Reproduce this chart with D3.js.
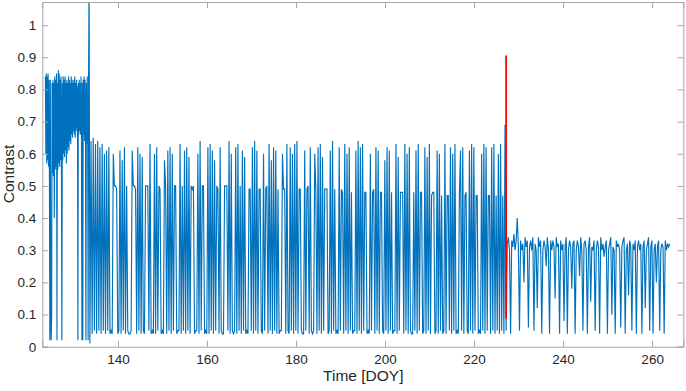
<!DOCTYPE html>
<html lang="en">
<head>
  <meta charset="UTF-8">
  <title>Contrast over time</title>
  <script src="https://d3js.org/d3.v7.min.js"></script>
  <style>
    body {
      margin: 0;
      background: #fff;
      font-family: "Liberation Sans", Arial, sans-serif;
    }
    svg { display: block; }
    .tick text { fill: #262626; font-size: 13.5px; }
  </style>
</head>
<body>
<svg width="686" height="391"></svg>

<script>
  // Contrast values in hundredths, one array per segment
  // segment A: DOY 123.7 .. 133.5, every 0.1 day
  const segAStart = 123.7, segAStep = 0.1;
  const segA = [
    84,60,85,57,84,58,85,56,83,54,2,83,12,2,10,82,54,83,53,82,
    40,84,55,83,56,85,2,82,55,86,57,85,56,83,58,84,57,2,82,58,
    84,60,83,59,84,61,82,57,83,60,82,62,84,61,83,64,82,63,84,66,
    83,65,82,67,83,66,84,65,82,67,83,68,81,2,82,66,83,67,82,66,
    84,65,2,82,2,83,66,84,64,83,66,2,82,63,84,62,2,84,115];

  // segment B: DOY 133.7 .. 227.2, every 0.25 day
  const segBStart = 133.7, segBStep = 0.25;
  const segB = [
    1,64,4,65,5,63,4,64,5,62,4,63,5,60,4,61,5,62,4,5,
    4,60,50,50,49,4,5,61,4,58,5,62,4,50,5,4,4,5,61,50,
    50,49,4,62,5,60,4,59,5,4,50,50,50,5,63,4,5,4,60,4,
    62,5,50,49,4,5,4,58,50,4,61,5,62,4,60,5,50,50,4,5,
    5,63,4,50,5,61,4,62,5,59,4,50,49,50,4,5,5,60,4,64,
    5,50,50,4,5,4,62,4,63,5,61,4,58,5,50,49,4,62,5,4,
    4,50,50,50,5,64,4,60,5,4,5,62,4,63,5,50,4,61,5,59,
    4,5,4,49,49,5,62,4,64,5,61,4,49,49,5,4,60,5,49,50,
    4,63,5,58,4,62,5,61,4,49,4,5,5,60,49,49,4,63,5,4,
    62,5,60,4,63,5,64,4,49,49,5,4,4,61,5,49,50,4,62,5,
    4,5,60,49,4,62,5,63,4,59,5,49,49,49,4,5,61,4,64,5,
    49,4,5,4,62,5,49,48,4,63,5,60,4,62,5,48,4,5,5,61,
    4,64,5,62,4,63,5,48,48,4,5,4,60,5,48,49,4,62,5,61,
    4,48,48,5,4,58,5,62,4,61,5,48,4,5,5,63,4,59,5,48,
    48,48,4,63,5,60,4,62,5,4,4,48,5,61,4,63,5,48,48,4,
    5,62,4,59,5,63,4,47,48,48,4,5,61,4,60,5,47,4,5,63,
    4,47,47,5,62,4,60,5,63,4,5,4,47,61,5,62,4,47,48,5,
    4,61,5,63,4,62,5,47,47,4,5,4,60,5,63,4,62,5,47,47,
    4,62,5,63,4,47,5,60,4,63,5,47,4,69,5];

  // segment C: DOY 227.45 .. 263.95, every 0.25 day
  const segCStart = 227.45, segCStep = 0.25;
  const segC = [
    32,34,30,4,33,31,35,30,33,40,31,5,33,30,32,20,34,31,33,6,
    31,33,30,34,5,32,30,12,34,31,33,4,30,33,31,25,34,30,4,33,
    30,33,31,15,34,31,32,4,33,30,32,8,31,34,4,30,33,31,18,32,
    33,4,30,33,31,22,34,30,5,32,33,30,4,31,34,14,31,30,33,5,
    30,33,31,4,34,30,32,28,31,33,4,30,32,34,10,31,30,4,33,31,
    32,30,6,31,33,34,4,30,32,16,33,31,5,32,30,33,4,31,33,30,
    32,4,31,33,12,30,32,34,5,31,33,4,30,32,20,31,33,5,30,32,
    31,4,33,30,32,31,32];

  // change marker (red)
  const markerDoy = [227.2, 227.2];
  const markerVal = [0.088, 0.906];

  const xTicks = [140, 160, 180, 200, 220, 240, 260];
  const yTicks = [0, 0.1, 0.2, 0.3, 0.4, 0.5, 0.6, 0.7, 0.8, 0.9, 1];

  const plotLeft = 42.3, plotRight = 683.3, plotTop = 2, plotBottom = 346.7;

  const svg = d3.select("svg");
  const x = d3.scaleLinear().domain([123, 267]).range([plotLeft, plotRight]);
  const y = d3.scaleLinear().domain([0, 1.072]).range([plotBottom, plotTop]);

  function toPoints(vals, start, step) {
    return vals.map((v, i) => ({ t: start + i * step, c: v / 100 }));
  }
  const points = toPoints(segA, segAStart, segAStep)
    .concat(toPoints(segB, segBStart, segBStep))
    .concat(toPoints(segC, segCStart, segCStep));

  svg.append("clipPath").attr("id", "plotClip")
    .append("rect")
    .attr("x", plotLeft).attr("y", plotTop)
    .attr("width", plotRight - plotLeft).attr("height", plotBottom - plotTop + 1);

  const line = d3.line().x(d => x(d.t)).y(d => y(d.c));

  svg.append("path")
    .datum(points)
    .attr("clip-path", "url(#plotClip)")
    .attr("fill", "none")
    .attr("stroke", "#0072BD")
    .attr("stroke-width", 1.15)
    .attr("stroke-linejoin", "miter")
    .attr("d", line);

  svg.append("path")
    .datum(markerDoy.map((t, i) => ({ t: t, c: markerVal[i] })))
    .attr("fill", "none")
    .attr("stroke", "#FF0000")
    .attr("stroke-width", 1.8)
    .attr("d", line);

  // axes, MATLAB box style with ticks pointing inward
  const axisColor = "#a6a6a6";
  const tickLen = 6;

  const xAxis = svg.append("g")
    .attr("transform", `translate(0,${plotBottom})`)
    .call(d3.axisBottom(x).tickValues(xTicks).tickSize(-tickLen).tickPadding(8));
  const yAxis = svg.append("g")
    .attr("transform", `translate(${plotLeft},0)`)
    .call(d3.axisLeft(y).tickValues(yTicks).tickSize(-tickLen).tickPadding(6)
      .tickFormat(d => d3.format("")(d)));
  const xTop = svg.append("g")
    .attr("transform", `translate(0,${plotTop})`)
    .call(d3.axisTop(x).tickValues(xTicks).tickSize(-tickLen).tickFormat(""));
  const yRight = svg.append("g")
    .attr("transform", `translate(${plotRight},0)`)
    .call(d3.axisRight(y).tickValues(yTicks).tickSize(-tickLen).tickFormat(""));

  [xAxis, yAxis, xTop, yRight].forEach(g => {
    g.select(".domain").attr("stroke", axisColor);
    g.selectAll(".tick line").attr("stroke", axisColor);
    g.selectAll(".tick text").style("font-family", "'Liberation Sans', Arial, sans-serif");
  });

  svg.append("text")
    .attr("x", (plotLeft + plotRight) / 2 + 0.5)
    .attr("y", 381)
    .attr("text-anchor", "middle")
    .style("font-size", "15.5px")
    .attr("fill", "#262626")
    .text("Time [DOY]");

  svg.append("text")
    .attr("transform", "translate(14,174) rotate(-90)")
    .attr("text-anchor", "middle")
    .style("font-size", "15.5px")
    .attr("fill", "#262626")
    .text("Contrast");
</script>
</body>
</html>
